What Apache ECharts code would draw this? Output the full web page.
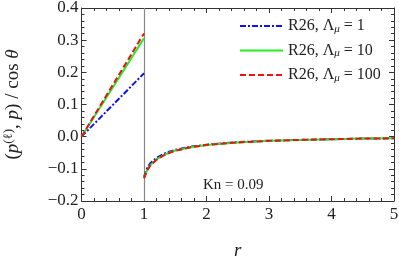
<!DOCTYPE html>
<html><head><meta charset="utf-8">
<script src="https://cdn.jsdelivr.net/npm/echarts@6/dist/echarts.min.js"></script>
<style>html,body{margin:0;padding:0;background:#fff}#c{width:399px;height:257px}</style>
</head><body><div id="c"></div>
<script>
// left segment (inside sphere), r in [0,1]
const rLeft = [0, 1];
const blueLeft = [0, 0.197];
const greenLeft = [0, 0.306];
const redLeft = [0, 0.321];
// right segment (outside), r in [1,5]
const rRight = [1, 1.05, 1.1, 1.2, 1.3, 1.4, 1.5, 1.75, 2, 2.5, 3, 3.5, 4, 4.5, 5];
const blueRight = [-0.125, -0.098, -0.083, -0.066, -0.055, -0.047, -0.041, -0.031, -0.025, -0.017, -0.013, -0.010, -0.008, -0.006, -0.005];
const greenRight = [-0.128, -0.104, -0.089, -0.071, -0.059, -0.050, -0.043, -0.033, -0.026, -0.018, -0.013, -0.010, -0.008, -0.006, -0.005];
const redRight = [-0.130, -0.105, -0.090, -0.072, -0.060, -0.051, -0.044, -0.033, -0.026, -0.018, -0.013, -0.010, -0.008, -0.006, -0.005];
const xTicks = [0, 1, 2, 3, 4, 5];
const yTicks = [-0.2, -0.1, 0.0, 0.1, 0.2, 0.3, 0.4];
const names = ['R26, {g|Λ}{s|μ} = 1', 'R26, {g|Λ}{s|μ} = 10', 'R26, {g|Λ}{s|μ} = 100'];

function pairs(xl, yl, xr, yr) {
  const d = xl.map((x, i) => [x, yl[i]]);
  d.push('-');
  return d.concat(xr.map((x, i) => [x, yr[i]]));
}
const SERIF = '"Liberation Serif", "DejaVu Serif", serif';
const chart = echarts.init(document.getElementById('c'), null, {renderer: 'canvas'});
const axisCommon = {
  axisLine: {show: true, onZero: false, lineStyle: {color: '#333', width: 1}},
  axisTick: {show: true, inside: true, length: 5, lineStyle: {color: '#333'}},
  minorTick: {show: true, splitNumber: 5, length: 3, lineStyle: {color: '#333'}},
  splitLine: {show: false}
};
const fmtY = v => (v < 0 ? '−' : '') + Math.abs(v).toFixed(1);
chart.setOption({
  animation: false,
  grid: {left: 81.5, right: 5, top: 8, bottom: 56, containLabel: false, outerBoundsMode: 'none'},
  legend: {
    left: 234, top: 13, orient: 'vertical', itemWidth: 43, itemHeight: 10, itemGap: 8,
    data: names,
    itemStyle: {opacity: 0},
    textStyle: {fontFamily: SERIF, fontSize: 16, color: '#222',
      rich: {g: {fontFamily: SERIF, fontSize: 16, color: '#222'}, s: {fontFamily: SERIF, fontStyle: 'italic', fontSize: 11, color: '#222', verticalAlign: 'bottom', padding: [6, 0, 0, 0]}}}
  },
  xAxis: [
    Object.assign({type: 'value', min: 0, max: 5, interval: 1, position: 'bottom',
      name: 'r', nameLocation: 'middle', nameGap: 40,
      nameTextStyle: {fontFamily: SERIF, fontStyle: 'italic', fontSize: 19, color: '#222'},
      axisLabel: {fontFamily: SERIF, fontSize: 17, color: '#222', margin: 5, formatter: v => String(v)}}, axisCommon),
    Object.assign({type: 'value', min: 0, max: 5, interval: 1, position: 'top', axisLabel: {show: false}}, axisCommon)
  ],
  yAxis: [
    Object.assign({type: 'value', min: -0.2, max: 0.4, interval: 0.1, position: 'left',
      name: '({i|p}{sup|(ℓ)}, {i|p}) / cos {i|θ}', nameLocation: 'middle', nameGap: 58, nameRotate: 90,
      nameTextStyle: {fontFamily: SERIF, fontSize: 19, color: '#222',
        rich: {i: {fontFamily: SERIF, fontStyle: 'italic', fontSize: 19, color: '#222'},
               sup: {fontFamily: SERIF, fontSize: 13, color: '#222', verticalAlign: 'top', padding: [0, 0, 8, 0]}}},
      axisLabel: {fontFamily: SERIF, fontSize: 17, color: '#222', margin: 3, formatter: fmtY}}, axisCommon),
    Object.assign({type: 'value', min: -0.2, max: 0.4, interval: 0.1, position: 'right', axisLabel: {show: false}}, axisCommon)
  ],
  series: [
    {name: names[0], type: 'line', showSymbol: false, symbol: 'none', data: pairs(rLeft, blueLeft, rRight, blueRight),
      lineStyle: {color: '#1010f0', width: 2, type: [6, 2, 2, 2]}, itemStyle: {color: '#1010f0'}, z: 3},
    {name: names[1], type: 'line', showSymbol: false, symbol: 'none', data: pairs(rLeft, greenLeft, rRight, greenRight),
      lineStyle: {color: '#22ee22', width: 2, type: 'solid'}, itemStyle: {color: '#22ee22'}, z: 4},
    {name: names[2], type: 'line', showSymbol: false, symbol: 'none', data: pairs(rLeft, redLeft, rRight, redRight),
      lineStyle: {color: '#ee1111', width: 2, type: [6, 3]}, itemStyle: {color: '#ee1111'}, z: 5,
      markLine: {silent: true, symbol: 'none', label: {show: false},
        lineStyle: {color: '#888', width: 1.2, type: 'solid'}, data: [{xAxis: 1}], z: 1}}
  ],
  graphic: [
    {type: 'text', left: 203, top: 178, style: {text: 'Kn = 0.09', fontFamily: SERIF, fontSize: 15, fill: '#222'}}
  ]
});
</script></body></html>
